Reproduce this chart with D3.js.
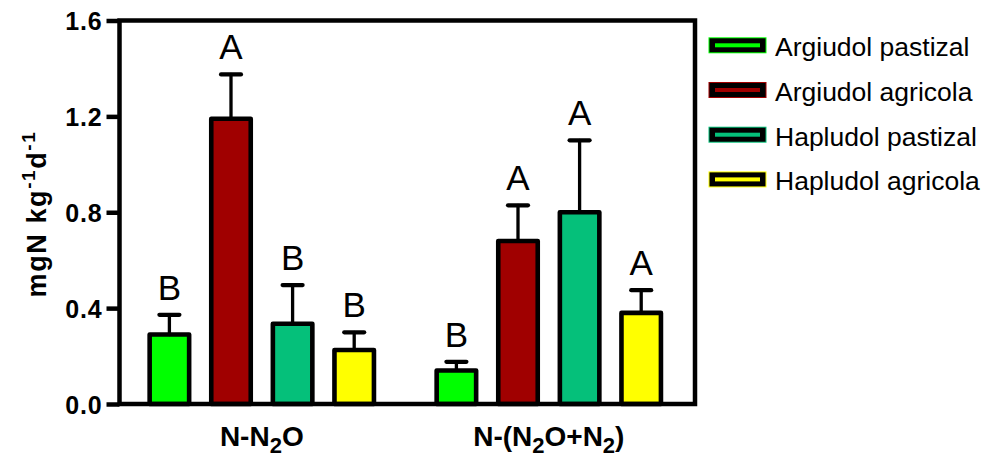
<!DOCTYPE html>
<html>
<head>
<meta charset="utf-8">
<script src="https://cdn.jsdelivr.net/npm/d3@7/dist/d3.min.js"></script>
<style>
  html, body { margin: 0; padding: 0; background: #ffffff; }
  svg { display: block; font-family: "Liberation Sans", Arial, Helvetica, sans-serif; }
</style>
</head>
<body>
<svg id="chart" width="989" height="457"></svg>
<script>
// Soil N emission rates (mgN kg-1 d-1) by soil type and land use
const groups = ["N-N2O", "N-(N2O+N2)"];
const groupLabelParts = [
  [["N-N", false], ["2", true], ["O", false]],
  [["N-(N", false], ["2", true], ["O+N", false], ["2", true], [")", false]]
];
const series = ["Argiudol pastizal", "Argiudol agricola", "Hapludol pastizal", "Hapludol agricola"];
const seriesColors = ["#00ff00", "#a00000", "#05c07a", "#ffff00"];

// mean per series, one value per group
const argiudolPastizal = [0.29, 0.14];
const argiudolAgricola = [1.19, 0.68];
const hapludolPastizal = [0.335, 0.80];
const hapludolAgricola = [0.225, 0.38];

// standard error per series, one value per group
const argiudolPastizalErr = [0.082, 0.036];
const argiudolAgricolaErr = [0.185, 0.149];
const hapludolPastizalErr = [0.161, 0.30];
const hapludolAgricolaErr = [0.074, 0.095];

// significance letters per series, one per group
const argiudolPastizalSig = ["B", "B"];
const argiudolAgricolaSig = ["A", "A"];
const hapludolPastizalSig = ["B", "A"];
const hapludolAgricolaSig = ["B", "A"];

const yTicks = [0, 0.4, 0.8, 1.2, 1.6];
const yDomain = [0, 1.6];

const means = [argiudolPastizal, argiudolAgricola, hapludolPastizal, hapludolAgricola];
const errs = [argiudolPastizalErr, argiudolAgricolaErr, hapludolPastizalErr, hapludolAgricolaErr];
const sigs = [argiudolPastizalSig, argiudolAgricolaSig, hapludolPastizalSig, hapludolAgricolaSig];

const rows = [];
groups.forEach((g, gi) => {
  series.forEach((s, si) => {
    rows.push({ group: g, series: s, si, value: means[si][gi], err: errs[si][gi], sig: sigs[si][gi] });
  });
});

const svg = d3.select("#chart");
const plot = { left: 119.5, right: 695, top: 20.5, bottom: 404 };
const frameW = 4.5;

const y = d3.scaleLinear().domain(yDomain).range([plot.bottom, plot.top]);
const x0 = d3.scaleBand().domain(groups).range([plot.left - 1.2, plot.right - 2.7]).paddingInner(0).paddingOuter(0);
const x1 = d3.scaleBand().domain(series).range([0, x0.bandwidth()]).paddingInner(0.359).paddingOuter(0.509);
const color = d3.scaleOrdinal().domain(series).range(seriesColors);

// bars
const barG = svg.append("g");
barG.selectAll("rect")
  .data(rows)
  .join("rect")
  .attr("x", d => x0(d.group) + x1(d.series))
  .attr("y", d => y(d.value))
  .attr("width", x1.bandwidth())
  .attr("height", d => y(0) - y(d.value))
  .attr("fill", d => color(d.series))
  .attr("stroke", "#000")
  .attr("stroke-width", 4.6)
  .attr("stroke-linejoin", "round");

// error bars (upper only)
const capHalf = 10;
const errG = svg.append("g").attr("stroke", "#000").attr("stroke-linecap", "round");
rows.forEach(d => {
  const cx = x0(d.group) + x1(d.series) + x1.bandwidth() / 2;
  errG.append("line")
    .attr("x1", cx).attr("x2", cx)
    .attr("y1", y(d.value)).attr("y2", y(d.value + d.err))
    .attr("stroke-width", 3.3);
  errG.append("line")
    .attr("x1", cx - capHalf).attr("x2", cx + capHalf)
    .attr("y1", y(d.value + d.err)).attr("y2", y(d.value + d.err))
    .attr("stroke-width", 4.2);
});

// significance letters
svg.append("g")
  .selectAll("text")
  .data(rows)
  .join("text")
  .attr("x", d => x0(d.group) + x1(d.series) + x1.bandwidth() / 2)
  .attr("y", d => y(d.value + d.err) - 15)
  .attr("text-anchor", "middle")
  .attr("font-size", 35)
  .attr("fill", "#000")
  .text(d => d.sig);

// y axis ticks and labels
const yAxis = d3.axisLeft(y).tickValues(yTicks).tickFormat(d3.format(".1f")).tickSize(13).tickPadding(4);
const yAxisG = svg.append("g").attr("transform", `translate(${plot.left},0)`).call(yAxis);
yAxisG.select(".domain").remove();
yAxisG.selectAll(".tick line").attr("stroke", "#000").attr("stroke-width", 4.5);
yAxisG.selectAll(".tick text")
  .attr("font-family", "'Liberation Sans', Arial, sans-serif")
  .attr("font-size", 25)
  .attr("font-weight", "bold")
  .attr("letter-spacing", 0.8)
  .attr("fill", "#000")
  .attr("dy", "0.36em");

// plot frame
svg.append("rect")
  .attr("x", plot.left).attr("y", plot.top)
  .attr("width", plot.right - plot.left).attr("height", plot.bottom - plot.top)
  .attr("fill", "none").attr("stroke", "#000").attr("stroke-width", frameW);

// group labels with subscripts
const xLab = svg.append("g");
groups.forEach((g, gi) => {
  const t = xLab.append("text")
    .attr("x", x0(g) + x0.bandwidth() / 2)
    .attr("y", 446)
    .attr("text-anchor", "middle")
    .attr("font-size", 28)
    .attr("font-weight", "bold")
    .attr("fill", "#000");
  let shifted = false;
  groupLabelParts[gi].forEach(([txt, sub]) => {
    const ts = t.append("tspan").text(txt);
    if (sub) { ts.attr("font-size", 22).attr("dy", 7); shifted = true; }
    else if (shifted) { ts.attr("dy", -7); shifted = false; }
  });
});

// y axis title
const yTitle = svg.append("text")
  .attr("transform", "translate(46,214) rotate(-90)")
  .attr("text-anchor", "middle")
  .attr("font-size", 27)
  .attr("font-weight", "bold")
  .attr("letter-spacing", 1.6)
  .attr("fill", "#000");
yTitle.append("tspan").text("mgN kg");
yTitle.append("tspan").text("-1").attr("font-size", 19).attr("dy", -11);
yTitle.append("tspan").text("d").attr("dy", 11);
yTitle.append("tspan").text("-1").attr("font-size", 19).attr("dy", -11);

// legend
const legend = svg.append("g");
series.forEach((s, i) => {
  const cy = 45.3 + i * 44.7;
  const lg = legend.append("g").attr("transform", `translate(708.5,${cy})`);
  lg.append("rect").attr("x", 0).attr("y", -8).attr("width", 58).attr("height", 16).attr("fill", color(s));
  lg.append("rect").attr("x", 1).attr("y", -7).attr("width", 56).attr("height", 14).attr("fill", "#000");
  lg.append("rect").attr("x", 6.5).attr("y", -2).attr("width", 45).attr("height", 4).attr("fill", color(s));
  lg.append("text")
    .attr("x", 66.5).attr("y", 11)
    .attr("font-size", 26.5)
    .attr("fill", "#000")
    .text(s);
});
</script>
</body>
</html>
